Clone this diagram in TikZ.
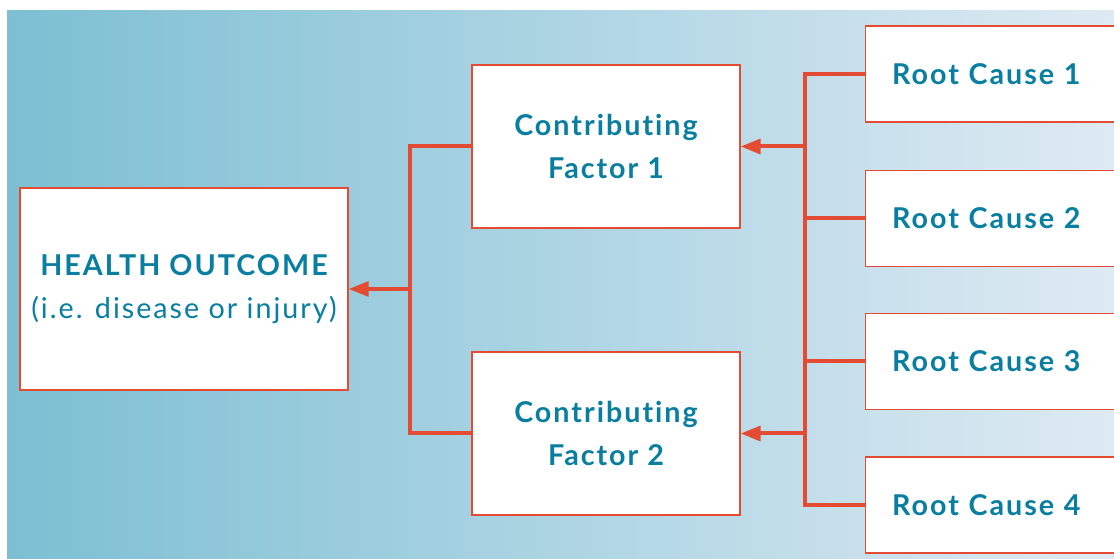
\documentclass[tikz,border=0pt]{standalone}
\usepackage{fontspec}
\setmainfont{Lato}[LetterSpace=7, Ligatures={NoCommon, NoRequired}]
\usetikzlibrary{arrows.meta, positioning}
\definecolor{linkred}{RGB}{227, 76, 50}
\definecolor{textteal}{RGB}{8, 126, 160}
\definecolor{bgleft}{RGB}{124, 191, 211}
\definecolor{bgright}{RGB}{222, 234, 243}
\tikzset{
  box/.style={draw=linkred, line width=0.8pt, fill=white, align=center, inner sep=0pt,
    text=textteal, font=\fontsize{21.5}{32}\selectfont\bfseries},
  causebox/.style={box, minimum height=72pt, text width=158pt, align=left, inner xsep=20pt},
  link/.style={draw=linkred, line width=3pt},
  linkarrow/.style={link, -{Triangle[length=15pt, width=11pt]}}
}

\begin{document}
\begin{tikzpicture}[x=0.75pt, y=-0.75pt]
  \useasboundingbox (0,0) rectangle (1114,559);
  \clip (0,0) rectangle (1114,559);
  % backdrop
  \shade[left color=bgleft, right color=bgright] (7,11) rectangle (1114,559);

  % Health outcome
  \node[box, minimum width=246pt, minimum height=151.5pt] (outcome) at (184, 289) {
    \raisebox{-3pt}{HEALTH OUTCOME}\\
    \raisebox{-3pt}{\mdseries (i.e. disease or injury)}
  };

  % Contributing factors
  \node[box, minimum width=201pt, minimum height=122.25pt] (factor1) at (606, 146.5) {Contributing\\Factor 1};
  \node[box, minimum width=201pt, minimum height=122.25pt] (factor2) at (606, 433.5) {Contributing\\Factor 2};

  % Root causes
  \node[causebox] (cause1) at (997.5, 74) {\raisebox{-2pt}{Root Cause 1}};
  \node[causebox] (cause2) at (997.5, 218.5) {\raisebox{-1pt}{Root Cause 2}};
  \node[causebox] (cause3) at (997.5, 361.5) {\raisebox{-1pt}{Root Cause 3}};
  \node[causebox] (cause4) at (997.5, 505) {\raisebox{-1pt}{Root Cause 4}};

  % left bracket
  \coordinate (leftbus) at (410, 0);
  \draw[link] (factor1.west) -| (leftbus |- factor2.west) -- (factor2.west);
  \draw[linkarrow] (leftbus |- outcome.east) -- (outcome.east);

  % right bracket
  \coordinate (rightbus) at (805, 0);
  \draw[link] (cause1.west) -| (rightbus |- cause4.west) -- (cause4.west);
  \draw[link] (rightbus |- cause2.west) -- (cause2.west);
  \draw[link] (rightbus |- cause3.west) -- (cause3.west);
  \draw[linkarrow] (rightbus |- factor1.east) -- (factor1.east);
  \draw[linkarrow] (rightbus |- factor2.east) -- (factor2.east);
\end{tikzpicture}
\end{document}
